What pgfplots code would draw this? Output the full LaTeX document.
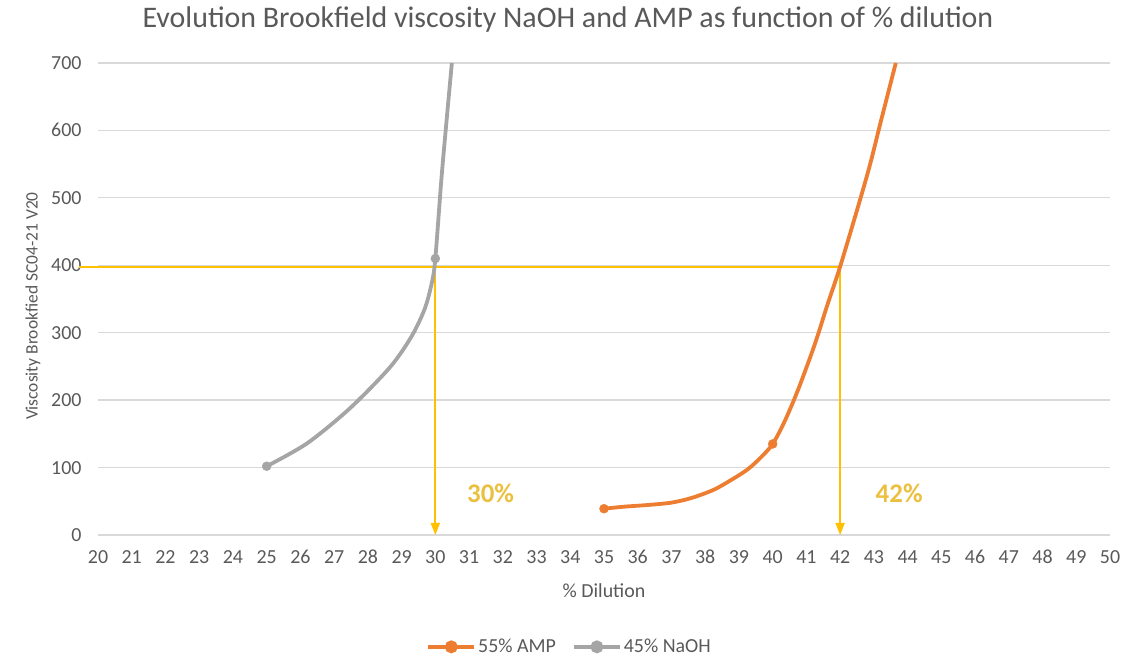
\documentclass[border=0pt]{standalone}
\usepackage{fontspec}
\setmainfont{Carlito}
\usepackage{pgfplots}
\pgfplotsset{compat=1.18}
\usetikzlibrary{arrows.meta}
\definecolor{amp}{HTML}{ED7D31}
\definecolor{naoh}{HTML}{A5A5A5}
\definecolor{gold}{HTML}{FFC000}
\definecolor{goldtxt}{HTML}{EBC03F}
\definecolor{gridc}{HTML}{D9D9D9}
\definecolor{txt}{HTML}{595959}

\begin{document}
\begin{tikzpicture}[x=1bp,y=1bp]
\path[use as bounding box] (0,0) rectangle (1145,658);
\begin{axis}[
    at={(98bp,123bp)}, anchor=south west,
    scale only axis, width=1012bp, height=472bp,
    xmin=20, xmax=50, ymin=0, ymax=700,
    xtick={20,21,...,50}, ytick={0,100,...,700},
    ymajorgrids, grid style={gridc, line width=1.3bp},
    axis line style={draw=none}, major tick length=0pt,
    /pgf/number format/assume math mode=true,
    ticklabel style={font=\fontsize{20}{20}\selectfont, text=txt,
        text height=13bp, text depth=0bp},
    xticklabel style={yshift=-12bp},
    yticklabel style={xshift=-13bp},
    title={Evolution Brookfield viscosity NaOH and AMP as function of \% dilution},
    title style={at={(axis description cs:0.4644,1.080)}, anchor=center,
        font=\fontsize{30}{30}\selectfont, text=txt},
    xlabel={\% Dilution},
    xlabel style={at={(axis description cs:0.5,-0.1186)}, anchor=center,
        font=\fontsize{20}{20}\selectfont, text=txt},
    ylabel={Viscosity Brookfied SC04-21 V20},
    ylabel style={at={(axis description cs:-0.0642,0.485)}, anchor=center,
        font=\fontsize{17.5}{17.5}\selectfont, text=txt},
    clip=false,
    legend columns=2,
    legend style={at={(axis description cs:0.466,-0.237)}, anchor=center,
        draw=none, fill=none, font=\fontsize{20}{20}\selectfont, text=txt,
        nodes={inner sep=2bp},
        /tikz/every even column/.append style={column sep=14bp}},
    legend image code/.code={
        \draw[#1, line width=3.8bp] (0bp,0bp) -- (46bp,0bp);
        \fill[#1] (23bp,0bp) circle (4.5bp);},
]
% reading lines at 400 mPa.s
\addplot[gold, line width=1.8bp, forget plot] coordinates {(19.45,398) (42,398)};
\addplot[gold, line width=1.8bp, -{Triangle[length=12bp,width=9bp]}, forget plot]
    coordinates {(30,398) (30,0)};
\addplot[gold, line width=1.8bp, -{Triangle[length=12bp,width=9bp]}, forget plot]
    coordinates {(42,398) (42,0)};

% 55% AMP curve
\addplot[amp, line width=3.8bp, smooth] coordinates {
    (35,39) (35.6,42) (36.3,44.5) (37.0,48) (37.6,55) (38.25,67)
    (38.75,81) (39.25,97) (39.65,115) (40,135) (40.35,168) (40.75,215)
    (41.25,283) (41.62,341) (42.00,398) (42.59,497) (42.9,552)
    (43.2,612) (43.65,700)
};
\addlegendentry{55\% AMP}

% 45% NaOH curve
\addplot[naoh, line width=3.8bp, smooth] coordinates {
    (25,102) (26.2,136) (27.47,188) (28.66,249) (29.3,295)
    (29.69,336) (29.9,375) (30,410) (30.2,540) (30.49,700)
};
\addlegendentry{45\% NaOH}

% measured points
\addplot[only marks, mark=*, mark size=4.5bp, amp, forget plot]
    coordinates {(35,39) (40,135)};
\addplot[only marks, mark=*, mark size=4.5bp, naoh, forget plot]
    coordinates {(25,102) (30,410)};

\node[goldtxt, font=\bfseries\fontsize{27}{27}\selectfont] at (axis cs:31.64,62) {30\%};
\node[goldtxt, font=\bfseries\fontsize{27}{27}\selectfont] at (axis cs:43.75,62) {42\%};
\end{axis}
\end{tikzpicture}
\end{document}
